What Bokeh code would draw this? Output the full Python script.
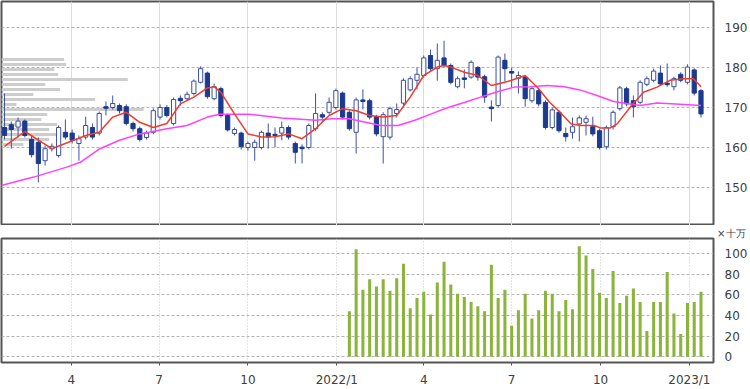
import numpy as np
import pandas as pd
from bokeh.plotting import figure
from bokeh.layouts import column
from bokeh.models import ColumnDataSource, FixedTicker, Range1d, Grid, Title
from bokeh.embed import file_html
from bokeh.resources import INLINE

# ---------------- data ----------------
start_date = "2021-01-22"   # first weekly candle

opens = [165.0, 165.7, 165.1, 166.6, 162.0, 161.3, 156.7, 159.7, 158.0, 163.8,
         163.6, 161.0, 162.6, 165.0, 163.6, 170.2, 170.0, 170.5, 170.2, 166.0,
         164.7, 162.5, 163.8, 167.6, 170.0, 166.0, 172.3, 172.2, 173.5, 176.3,
         178.6, 172.2, 174.7, 168.0, 163.5, 163.6, 160.0, 160.0, 160.0, 163.6,
         163.3, 163.6, 165.0, 161.0, 160.1, 160.0, 164.7, 168.2, 168.8, 170.0,
         173.6, 168.8, 163.8, 171.9, 171.7, 167.7, 162.7, 162.6, 168.5, 171.1,
         174.4, 176.8, 178.0, 183.0, 179.7, 182.4, 180.5, 175.2, 177.4, 177.6,
         180.0, 177.7, 170.1, 170.5, 181.8, 179.0, 177.3, 177.6, 171.7, 174.2,
         171.3, 165.0, 168.8, 163.5, 163.8, 165.9, 166.3, 165.2, 164.2, 160.2,
         165.2, 169.7, 174.7, 171.7, 171.3, 175.8, 176.8, 178.6, 176.1, 175.2,
         178.3, 176.3, 179.4, 174.2]
highs = [173.5, 166.5, 167.5, 167.0, 163.0, 162.5, 160.5, 161.0, 165.5, 167.0,
         164.5, 163.0, 167.7, 166.0, 169.0, 171.5, 173.0, 171.0, 170.8, 166.5,
         165.2, 164.2, 169.8, 170.8, 170.6, 172.5, 173.0, 174.0, 177.0, 180.3,
         179.0, 176.0, 175.2, 168.5, 165.0, 164.0, 161.5, 162.0, 164.2, 166.0,
         165.0, 166.5, 165.5, 161.5, 160.8, 166.0, 173.5, 168.8, 172.5, 174.7,
         174.0, 169.3, 172.5, 174.5, 172.2, 168.2, 168.8, 170.2, 171.0, 177.3,
         177.8, 180.0, 183.0, 184.5, 186.0, 186.7, 181.0, 177.8, 179.5, 181.8,
         180.4, 178.2, 171.8, 183.0, 183.5, 180.0, 179.0, 178.0, 175.3, 174.7,
         171.8, 170.0, 169.3, 165.0, 167.5, 168.0, 168.0, 167.7, 164.7, 165.5,
         169.3, 175.4, 175.2, 173.0, 176.8, 177.8, 179.7, 180.5, 181.0, 177.7,
         178.8, 180.8, 179.8, 174.6]
lows = [162.0, 159.7, 162.5, 162.5, 157.5, 151.3, 155.5, 159.0, 157.5, 162.0,
        161.0, 156.7, 162.0, 162.0, 163.0, 168.0, 169.5, 168.5, 165.5, 164.0,
        161.5, 162.0, 163.3, 167.0, 167.5, 165.5, 170.5, 171.8, 173.0, 176.0,
        172.2, 171.8, 167.5, 164.0, 163.0, 159.5, 159.2, 156.7, 159.5, 159.7,
        160.0, 161.8, 162.0, 156.0, 156.0, 159.5, 164.2, 166.5, 168.3, 169.5,
        167.0, 164.2, 158.5, 169.5, 167.0, 162.8, 156.0, 162.0, 167.5, 170.5,
        174.0, 174.5, 177.5, 179.2, 176.7, 180.0, 175.8, 174.8, 174.8, 177.2,
        176.7, 171.2, 166.5, 170.0, 176.5, 175.0, 173.5, 170.2, 171.2, 170.3,
        164.5, 164.5, 163.7, 161.5, 162.2, 161.5, 163.0, 162.8, 159.5, 159.5,
        164.5, 169.2, 170.3, 167.5, 170.8, 175.3, 176.3, 175.4, 175.2, 174.3,
        176.3, 175.8, 173.0, 167.5]
closes = [163.0, 164.5, 166.6, 163.0, 158.2, 156.0, 159.7, 160.3, 165.0, 162.6,
          161.8, 162.2, 165.5, 162.6, 168.5, 169.8, 171.0, 169.2, 166.0, 164.7,
          162.0, 163.6, 169.2, 170.0, 168.0, 172.0, 171.7, 173.3, 176.6, 179.7,
          172.7, 175.2, 168.0, 164.4, 164.5, 160.2, 161.0, 161.3, 163.8, 162.6,
          163.0, 165.0, 162.6, 158.8, 159.7, 165.5, 168.5, 167.6, 171.3, 174.2,
          167.6, 164.7, 171.9, 171.5, 167.6, 163.4, 168.2, 169.7, 169.5, 176.8,
          177.2, 178.3, 182.4, 179.7, 181.8, 180.5, 176.3, 177.2, 177.0, 181.3,
          177.6, 172.6, 169.7, 182.6, 179.7, 178.6, 178.0, 172.2, 174.7, 170.9,
          165.0, 169.4, 164.2, 162.7, 165.2, 167.4, 167.2, 163.4, 160.0, 165.0,
          168.8, 174.9, 170.9, 170.2, 176.3, 177.2, 179.1, 175.9, 175.7, 177.2,
          176.8, 180.1, 173.6, 168.4]

# weekly volume (x 100,000 shares), last 53 weeks
volumes = [44, 104, 65, 75, 68, 75, 64, 76, 90, 47, 57, 63, 41, 72, 92, 70, 61,
           58, 53, 49, 44, 89, 57, 65, 30, 45, 61, 37, 45, 64, 61, 44, 55, 46,
           107, 98, 85, 62, 57, 83, 52, 59, 66, 53, 25, 53, 53, 82, 42, 22, 52,
           53, 63]

# 13-week moving average (week number, value)
ma13_week = [0, 3, 7, 12, 14, 16, 18, 20, 22, 24, 26, 28, 30, 31, 32, 34, 36,
             38, 40, 42, 44, 46, 48, 50, 52, 54, 56, 58, 60, 62, 64, 65, 66, 68,
             70, 72, 74, 75, 77, 79, 80.6, 82.4, 83.8, 85.3, 87.2, 88.1, 89.6,
             90.6, 92.5, 94.5, 96.5, 98.4, 100.4, 101.9, 103]
ma13_val = [160.3, 164.0, 159.7, 163.0, 163.8, 167.6, 168.8, 166.3, 165.0, 166.0,
            170.9, 172.6, 174.9, 175.2, 173.8, 168.4, 163.4, 162.6, 162.7, 163.4,
            162.2, 164.7, 168.0, 169.7, 169.2, 168.0, 167.6, 168.0, 172.6, 178.0,
            180.1, 180.5, 180.1, 178.8, 178.0, 175.5, 176.3, 176.8, 178.0, 174.7,
            171.3, 168.4, 165.9, 165.5, 165.5, 164.9, 164.9, 165.9, 170.0, 173.8,
            175.1, 176.8, 177.2, 177.2, 175.2]

# 26-week moving average (week number, value)
ma26_week = [-0.5, 4.3, 9.2, 11.2, 14.1, 17, 20, 24, 27, 30, 31.8, 36.2, 41, 46,
             48.4, 51, 53.4, 55.7, 58.2, 60.7, 63.1, 65.6, 68.1, 70.4, 73, 75.4,
             77.8, 80.3, 82.8, 85.1, 87.6, 90.1, 92.5, 94, 96.5, 99.9, 103]
ma26_val = [150.5, 152.6, 155.1, 156.3, 159.7, 161.8, 163.4, 164.7, 165.5, 167.6,
            168.3, 168.3, 167.4, 166.8, 167.2, 167.2, 166.3, 165.5, 165.5, 166.8,
            168.4, 170.0, 171.3, 172.6, 174.0, 175.1, 175.2, 175.5, 175.2, 174.4,
            173.0, 171.5, 170.9, 170.5, 171.1, 170.8, 170.5]

# volume-by-price profile
profile_price = [182.0, 180.75, 179.5, 178.25, 177.0, 175.75, 174.5, 173.25, 172.0,
                 170.75, 169.5, 168.25, 167.0, 165.75, 164.5, 163.25, 162.0, 160.75]
profile_vol = [63, 65, 53, 57, 127, 44, 59, 32, 94, 15, 143, 46, 40, 56, 48, 55, 48, 22]

price_ticks = [150, 160, 170, 180, 190]
vol_ticks = [0, 20, 40, 60, 80, 100]
tick_dates = ["2021-04-01", "2021-07-01", "2021-10-01", "2022-01-01",
              "2022-04-01", "2022-07-01", "2022-10-01", "2023-01-01"]
tick_labels = ["4", "7", "10", "2022/1", "4", "7", "10", "2023/1"]
vol_unit = "×十万"

# ---------------- derived ----------------
n = len(opens)
x = np.arange(n)
t0 = pd.Timestamp(start_date)
tick_pos = [(pd.Timestamp(d) - t0).days / 7.0 for d in tick_dates]
overrides = {p: l for p, l in zip(tick_pos, tick_labels)}

o = np.array(opens); c = np.array(closes)
up = c >= o
src = ColumnDataSource(dict(x=x, low=lows, high=highs))
up_src = ColumnDataSource(dict(x=x[up], top=np.maximum(o, c)[up], bottom=np.minimum(o, c)[up]))
dn_src = ColumnDataSource(dict(x=x[~up], top=np.maximum(o, c)[~up], bottom=np.minimum(o, c)[~up]))

X0, X1 = -0.45, 104.85
FONT = "DejaVu Sans"
LBL = "#404040"

# ---------------- price panel ----------------
p1 = figure(width=750, height=225, output_backend="svg", toolbar_location=None,
            x_range=Range1d(X0, X1), y_range=Range1d(140.5, 196.5),
            x_axis_location=None, y_axis_location="right",
            min_border_left=1, min_border_right=33, min_border_top=1, min_border_bottom=0)
p1.outline_line_color = "#555555"
p1.outline_line_width = 2
for g in list(p1.grid):
    g.visible = False
p1.add_layout(Grid(dimension=0, ticker=FixedTicker(ticks=tick_pos),
                   grid_line_color="#dcdcdc", grid_line_width=1))
p1.add_layout(Grid(dimension=1, ticker=FixedTicker(ticks=price_ticks),
                   grid_line_color="#b4b4b4", grid_line_dash="3 2", grid_line_width=1))
ya = p1.yaxis[0]
ya.ticker = FixedTicker(ticks=price_ticks)
ya.axis_line_color = None
ya.major_tick_line_color = None
ya.minor_tick_line_color = None
ya.major_label_standoff = 5
ya.major_label_text_font = FONT
ya.major_label_text_font_size = "12px"
ya.major_label_text_color = LBL

prof_right = [X0 + v / 6.8 for v in profile_vol]
p1.hbar(y=profile_price, left=X0, right=prof_right, height=0.7,
        fill_color="#cdcdcd", line_color=None)
p1.segment(x0="x", y0="low", x1="x", y1="high", source=src, line_color="#3d519e", line_width=1)
p1.vbar(x="x", top="top", bottom="bottom", width=0.62, source=up_src,
        fill_color="white", line_color="#3d519e", line_width=1)
p1.vbar(x="x", top="top", bottom="bottom", width=0.62, source=dn_src,
        fill_color="#1c3a8e", line_color="#1c3a8e", line_width=1)
p1.line(ma26_week, ma26_val, line_color="#ff40ff", line_width=1.5)
p1.line(ma13_week, ma13_val, line_color="#f03c2c", line_width=1.5)

# ---------------- volume panel ----------------
p2 = figure(width=750, height=164, output_backend="svg", toolbar_location=None,
            x_range=p1.x_range, y_range=Range1d(-5.5, 114.5),
            y_axis_location="right",
            min_border_left=1, min_border_right=33, min_border_top=9, min_border_bottom=22)
p2.outline_line_color = "#555555"
p2.outline_line_width = 2
p2.add_layout(Title(text=vol_unit, align="right", offset=-32, standoff=0,
                    vertical_align="bottom", text_font="DejaVu Sans",
                    text_font_size="10px", text_font_style="normal",
                    text_line_height=0.55, text_color=LBL), "above")
for g in list(p2.grid):
    g.visible = False
p2.add_layout(Grid(dimension=0, ticker=FixedTicker(ticks=tick_pos),
                   grid_line_color="#c8c8c8", grid_line_dash="1 2", grid_line_width=1))
p2.add_layout(Grid(dimension=1, ticker=FixedTicker(ticks=vol_ticks),
                   grid_line_color="#b4b4b4", grid_line_dash="3 2", grid_line_width=1))
va = p2.yaxis[0]
va.ticker = FixedTicker(ticks=vol_ticks)
va.axis_line_color = None
va.major_tick_line_color = None
va.minor_tick_line_color = None
va.major_label_standoff = 5
va.major_label_text_font = FONT
va.major_label_text_font_size = "12px"
va.major_label_text_color = LBL
xa = p2.xaxis[0]
xa.ticker = FixedTicker(ticks=tick_pos)
xa.major_label_overrides = overrides
xa.axis_line_color = None
xa.major_tick_in = 0
xa.major_tick_out = 3
xa.major_tick_line_color = "#555555"
xa.minor_tick_line_color = None
xa.major_label_standoff = 7
xa.major_label_text_font = FONT
xa.major_label_text_font_size = "12px"
xa.major_label_text_color = LBL

vx = np.arange(n - len(volumes), n)
p2.vbar(x=vx, top=volumes, bottom=0, width=0.45, fill_color="#8cb43c", line_color=None)

layout = column(p1, p2, spacing=0)
open("out.html", "w").write(file_html(layout, INLINE))
